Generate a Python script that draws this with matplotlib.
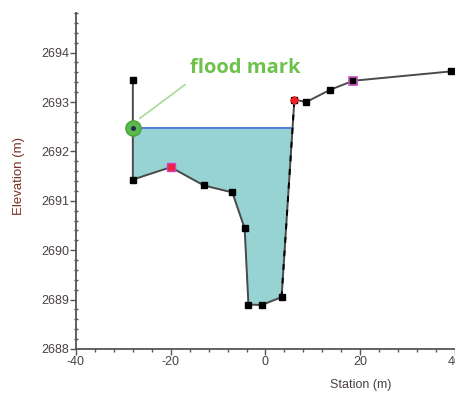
import numpy as np
import matplotlib.pyplot as plt
from matplotlib.ticker import MultipleLocator

plt.rcParams['font.family'] = ['Liberation Sans', 'DejaVu Sans']
plt.rcParams['axes.unicode_minus'] = False

# cross-section survey points
station = [-28.0, -28.0, -20.0, -13.0, -7.0, -4.4, -3.6, -0.8, 3.4, 6.1, 8.6, 13.7, 18.5, 39.2]
elev = [2693.45, 2691.43, 2691.68, 2691.31, 2691.17, 2690.44, 2688.90, 2688.89, 2689.05,
        2693.05, 2693.00, 2693.25, 2693.43, 2693.62]
water_level = 2692.48
flood_station = -28.0

st = np.array(station)
el = np.array(elev)

fig = plt.figure(figsize=(4.55, 3.97), dpi=100)
ax = fig.add_axes([0.167, 0.121, 0.833, 0.846])

# water surface polygon between the banks
wet_x = [st[1]]
wet_y = [water_level]
for i in range(1, 9):
    wet_x.append(st[i]); wet_y.append(el[i])
# where the right bank crosses the water level
f = (water_level - el[8]) / (el[9] - el[8])
xr = st[8] + f * (st[9] - st[8])
wet_x.append(xr); wet_y.append(water_level)
ax.fill(wet_x, wet_y, color='#97d3d3', zorder=1)
ax.plot([st[1], xr], [water_level, water_level], color='#5b7fd6', lw=1.5, zorder=2)

# ground profile
ax.plot(st, el, color='#4a4a4a', lw=1.4, zorder=3)
ax.plot(st[8:10], el[8:10], color='black', lw=1.4, ls=(0, (3, 4)), zorder=3)
ax.plot(st, el, 's', color='black', ms=4.5, lw=0, zorder=4)

# highlighted points
ax.plot(st[2], el[2], 's', mfc='#f0203a', mec='#d040c0', ms=6, zorder=5)
ax.plot(st[9], el[9], 'D', mfc='#f02020', mec='#f02020', ms=4.2, zorder=5)
ax.plot(st[12], el[12], 's', mfc='black', mec='#d050c8', mew=1.2, ms=6, zorder=5)

# flood mark
ax.plot(flood_station, water_level, 'o', mfc='#5cb84a', mec='#49a53a', ms=11, zorder=6)
ax.plot(flood_station, water_level, 'o', color='#1a2a50', ms=2.5, zorder=7)
ax.plot([-26.5, -17.0], [2692.67, 2693.35], color='#a9d995', lw=1.2, zorder=6)
ax.text(-16.0, 2693.68, 'flood mark', color='#6cc24a', fontsize=14.5, fontweight='bold',
        family=['Open Sans', 'DejaVu Sans'], va='center', ha='left')

ax.set_xlim(-40, 40)
ax.set_ylim(2688, 2694.8)
ax.xaxis.set_major_locator(MultipleLocator(20))
ax.xaxis.set_minor_locator(MultipleLocator(4))
ax.yaxis.set_major_locator(MultipleLocator(1))
ax.yaxis.set_minor_locator(MultipleLocator(0.2))

for s in ['top', 'right']:
    ax.spines[s].set_visible(False)
for s in ['left', 'bottom']:
    ax.spines[s].set_color('#555555')
    ax.spines[s].set_linewidth(1.3)

ax.tick_params(axis='x', which='major', direction='out', length=4, width=1, colors='#555555',
               labelsize=9, labelcolor='#4a4040', pad=1)
ax.tick_params(axis='x', which='minor', direction='out', length=2.5, width=1, colors='#555555')
ax.tick_params(axis='y', which='major', direction='out', length=4, width=1, colors='#555555',
               labelsize=9, labelcolor='#4a4040', pad=1)
ax.tick_params(axis='y', which='minor', direction='inout', length=3, width=1, colors='#555555')

ax.set_xlabel('Station (m)', fontsize=9, color='#4a4040')
ax.xaxis.set_label_coords(0.752, -0.09)
ax.set_ylabel('Elevation (m)', fontsize=9.5, color='#7a3020')
ax.yaxis.set_label_coords(-0.135, 0.515)

fig.savefig('out.png', dpi=100)
